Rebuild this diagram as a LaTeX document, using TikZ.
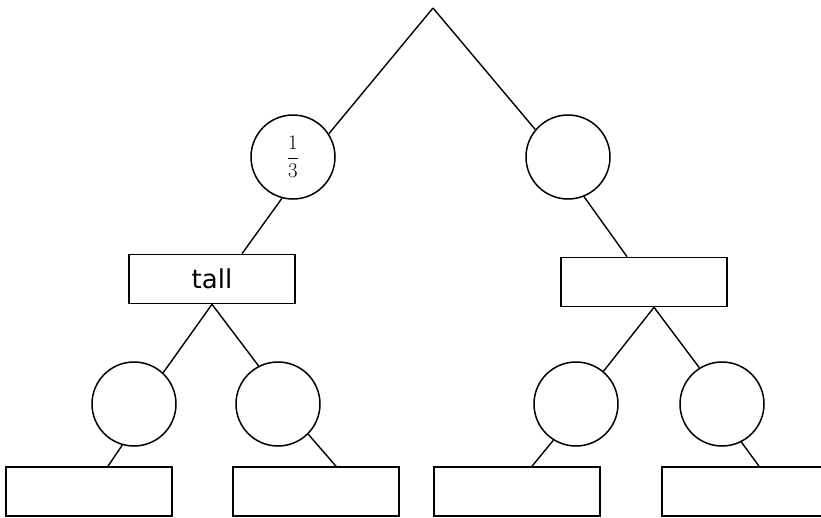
\documentclass[tikz,border=0pt]{standalone}
\usepackage{fontspec}
\usepackage{amsmath}
\newfontfamily\labelfont{DejaVu Sans}
\usetikzlibrary{positioning}
\tikzset{
    chance/.style = {draw, circle, fill=white, line width=1.5pt,
        minimum size=84pt, inner sep=0pt},
    leaf/.style = {draw, rectangle, fill=white, line width=1.6pt,
        minimum height=49pt, minimum width=166pt, inner sep=0pt},
    branch/.style = {draw, line width=1.4pt}
}

\begin{document}
\begin{tikzpicture}[x=1pt, y=-1pt]
    \useasboundingbox (0,0) rectangle (821,517);
    \coordinate (root) at (433,8);
    % first level
    \node [chance] (pl) at (293,157) {\fontsize{22}{26}\selectfont$\displaystyle\frac{1}{3}$};
    \node [chance] (pr) at (568,157) {};
    \node [leaf] (al) at (212,279) {\labelfont\fontsize{26}{30}\selectfont tall};
    \node [leaf] (ar) at (644,282) {};
    \draw [branch] (root) -- (pl.33);
    \draw [branch] (root) -- (pr.140);
    \draw [branch] (pl.255) -- ([xshift=30pt]al.north);
    \draw [branch] (pr.292) -- ([xshift=-17pt]ar.north);
    % second level
    \node [chance] (qa) at (134,404) {};
    \node [chance] (qb) at (278,404) {};
    \node [chance] (qc) at (576,404) {};
    \node [chance] (qd) at (722,404) {};
    \node [leaf] (ba) at (89,491.5) {};
    \node [leaf] (bb) at (316,491.5) {};
    \node [leaf] (bc) at (517,491.5) {};
    \node [leaf] (bd) at (745,491.5) {};
    \draw [branch] (al.south) -- (qa.47);
    \draw [branch] (al.south) -- (qb.117);
    \draw [branch] ([xshift=10pt]ar.south) -- (qc.50);
    \draw [branch] ([xshift=10pt]ar.south) -- (qd.122);
    \draw [branch] (qa.254) -- ([xshift=19pt]ba.north);
    \draw [branch] (qb.315) -- ([xshift=20pt]bb.north);
    \draw [branch] (qc.238) -- ([xshift=15pt]bc.north);
    \draw [branch] (qd.297) -- ([xshift=14pt]bd.north);
\end{tikzpicture}
\end{document}
